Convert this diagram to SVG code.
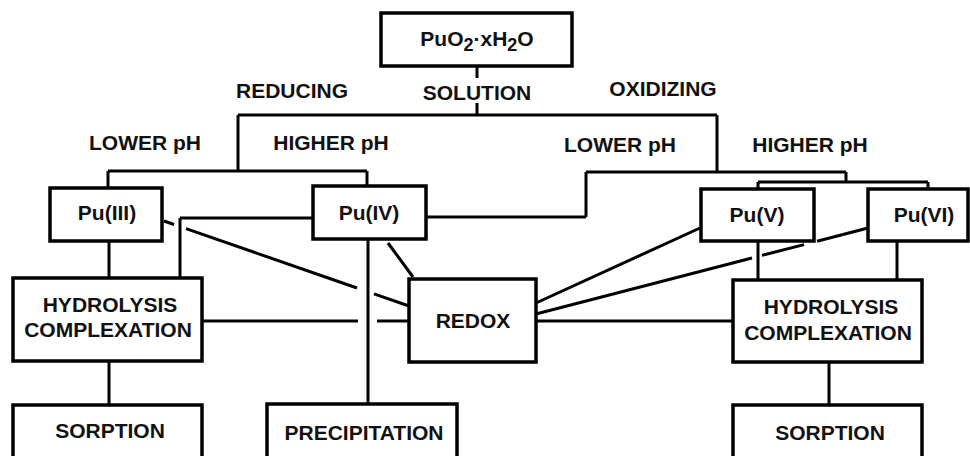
<svg xmlns="http://www.w3.org/2000/svg" width="970" height="456" viewBox="0 0 970 456">
<style>
.box{fill:#fff;stroke:#000;stroke-width:3.5}
.ln{stroke:#000;stroke-width:3;fill:none;stroke-linecap:butt}
text{font-family:"Liberation Sans",Arial,sans-serif;font-weight:bold;font-size:21px;text-anchor:middle;fill:#111}
.sub{font-size:18px}
</style>
<rect width="970" height="456" fill="#fff"/>
<g id="connectors">
<path class="ln" d="M477,66V78 M477,103V115 M238,115H717 M238,115V171 M108,171H367 M108,171V188 M367,171V186 M717,115V172 M586,172H846 M586,172V217 M426,217H586 M846,172V182 M758,182H928 M758,182V189 M928,182V189"/>
<path class="ln" d="M109,241V278 M180,218H313 M180,218V278 M368,239V404 M202,321H358 M377,321H409 M109,361V405"/>
<path class="ln" d="M164,221L174,224.5 M186,228.6L357,288 M374,293.9L409,306 M388,243L413,277"/>
<path class="ln" d="M536,303L700,228 M536,314L752,258 M762,255.4L804,244.6 M817,241.2L868,228"/>
<path class="ln" d="M758,241V280 M897,241V280 M536,321H733 M829,362V405"/>
</g>
<g id="puo2"><rect class="box" x="381" y="13" width="191" height="53"/><text x="477" y="46">PuO<tspan class="sub" dy="5">2</tspan><tspan dy="-5">·xH</tspan><tspan class="sub" dy="5">2</tspan><tspan dy="-5">O</tspan></text></g>
<g id="labels">
<text x="477" y="100">SOLUTION</text>
<text x="292" y="98">REDUCING</text>
<text x="663" y="96">OXIDIZING</text>
<text x="145" y="150">LOWER pH</text>
<text x="331" y="150">HIGHER pH</text>
<text x="620" y="152">LOWER pH</text>
<text x="810" y="152">HIGHER pH</text>
</g>
<g id="pu3"><rect class="box" x="50" y="188" width="112" height="53"/><text x="107" y="220">Pu(III)</text></g>
<g id="pu4"><rect class="box" x="313" y="186" width="113" height="53"/><text x="369" y="220">Pu(IV)</text></g>
<g id="pu5"><rect class="box" x="701" y="189" width="113" height="52"/><text x="757" y="222">Pu(V)</text></g>
<g id="pu6"><rect class="box" x="868" y="189" width="100" height="52"/><text x="924" y="222">Pu(VI)</text></g>
<g id="hyd-left"><rect class="box" x="13" y="278" width="189" height="83"/><text x="110" y="312">HYDROLYSIS</text><text x="108" y="337">COMPLEXATION</text></g>
<g id="redox"><rect class="box" x="409" y="279" width="127" height="83"/><text x="473" y="328">REDOX</text></g>
<g id="hyd-right"><rect class="box" x="733" y="280" width="189" height="82"/><text x="831" y="314">HYDROLYSIS</text><text x="828" y="340">COMPLEXATION</text></g>
<g id="sorption-left"><rect class="box" x="13" y="405" width="189" height="60"/><text x="110" y="438">SORPTION</text></g>
<g id="precipitation"><rect class="box" x="267" y="404" width="190" height="60"/><text x="364" y="440">PRECIPITATION</text></g>
<g id="sorption-right"><rect class="box" x="733" y="405" width="189" height="60"/><text x="830" y="440">SORPTION</text></g>
</svg>
